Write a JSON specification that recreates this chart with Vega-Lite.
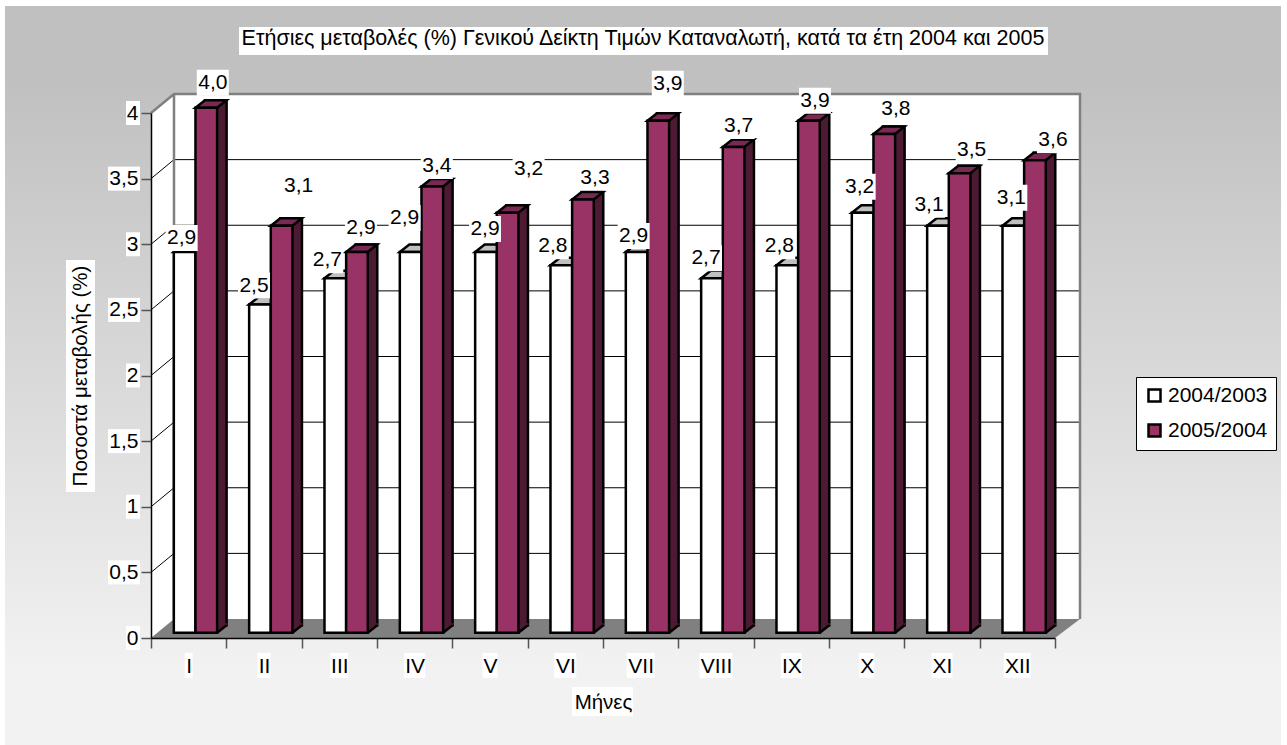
{
"$schema":"https://vega.github.io/schema/vega-lite/v6.json",
"width":1276,"height":739,
"autosize":{"type":"none"},
"padding":{"left":5,"top":6,"right":6,"bottom":0},
"background":"white",
"view":{"stroke":null,"fill":{"gradient":"linear","x1":0,"y1":0,"x2":0,"y2":1,"stops":[{"offset":0,"color":"#c0c0c0"},{"offset":0.1,"color":"#c0c0c0"},{"offset":0.9,"color":"#f2f2f2"},{"offset":1,"color":"#f2f2f2"}]}},
"config":{"font":"Liberation Sans"},
"title":{"text":"Ετήσιες μεταβολές (%) Γενικού Δείκτη Τιμών Καταναλωτή, κατά τα έτη 2004 και 2005","font":"Liberation Sans","fontSize":21.5,"fontWeight":"normal","color":"black","anchor":"middle","frame":"group","offset":-43},
"params":[
{"name":"off","value":{
"2004/2003":{"I":[-3,-14],"II":[-6,-19],"III":[-8,-18],"IV":[-6,-34],"V":[-1,-23],"VI":[-8.5,-19],"VII":[-3,-16],"VIII":[-6,-20],"IX":[-8,-19],"X":[-3,-26],"XI":[-9,-21],"XII":[-2,-28]},
"2005/2004":{"I":[6.5,-25],"II":[17,-40],"III":[4,-24],"IV":[4.5,-20.5],"V":[21,-44],"VI":[12,-22],"VII":[9.5,-37],"VIII":[5,-21],"IX":[6,-20],"X":[11.5,-25],"XI":[12,-23],"XII":[18,-20]}}},
{"name":"boxw","value":{"I":8,"II":13,"III":18,"IV":21,"V":15,"VI":22,"VII":28,"VIII":33,"IX":21,"X":15,"XI":21,"XII":27}}
],
"datasets":{
"bars":[
{"month":"I","series":"2004/2003","value":2.9,"label":"2,9"},{"month":"II","series":"2004/2003","value":2.5,"label":"2,5"},{"month":"III","series":"2004/2003","value":2.7,"label":"2,7"},{"month":"IV","series":"2004/2003","value":2.9,"label":"2,9"},{"month":"V","series":"2004/2003","value":2.9,"label":"2,9"},{"month":"VI","series":"2004/2003","value":2.8,"label":"2,8"},{"month":"VII","series":"2004/2003","value":2.9,"label":"2,9"},{"month":"VIII","series":"2004/2003","value":2.7,"label":"2,7"},{"month":"IX","series":"2004/2003","value":2.8,"label":"2,8"},{"month":"X","series":"2004/2003","value":3.2,"label":"3,2"},{"month":"XI","series":"2004/2003","value":3.1,"label":"3,1"},{"month":"XII","series":"2004/2003","value":3.1,"label":"3,1"},
{"month":"I","series":"2005/2004","value":4.0,"label":"4,0"},{"month":"II","series":"2005/2004","value":3.1,"label":"3,1"},{"month":"III","series":"2005/2004","value":2.9,"label":"2,9"},{"month":"IV","series":"2005/2004","value":3.4,"label":"3,4"},{"month":"V","series":"2005/2004","value":3.2,"label":"3,2"},{"month":"VI","series":"2005/2004","value":3.3,"label":"3,3"},{"month":"VII","series":"2005/2004","value":3.9,"label":"3,9"},{"month":"VIII","series":"2005/2004","value":3.7,"label":"3,7"},{"month":"IX","series":"2005/2004","value":3.9,"label":"3,9"},{"month":"X","series":"2005/2004","value":3.8,"label":"3,8"},{"month":"XI","series":"2005/2004","value":3.5,"label":"3,5"},{"month":"XII","series":"2005/2004","value":3.6,"label":"3,6"}],
"ticks":[{"v":0},{"v":0.5},{"v":1},{"v":1.5},{"v":2},{"v":2.5},{"v":3},{"v":3.5},{"v":4}],
"months":[{"month":"I"},{"month":"II"},{"month":"III"},{"month":"IV"},{"month":"V"},{"month":"VI"},{"month":"VII"},{"month":"VIII"},{"month":"IX"},{"month":"X"},{"month":"XI"},{"month":"XII"}],
"anchor":[{"month":"I","v":0}]
},
"resolve":{"scale":{"x":"independent","y":"independent"}},
"layer":[
{"data":{"name":"anchor"},
 "mark":{"type":"point","filled":true,"opacity":1,"size":4,"fill":"white","stroke":null,"shape":"M0,0L0,-525L23,-544H929V-19H23Z"},
 "encoding":{"x":{"field":"month","type":"nominal","bandPosition":0,"axis":null,"scale":{"type":"band","domain":["I","II","III","IV","V","VI","VII","VIII","IX","X","XI","XII"],"range":[146,1050],"padding":0}},
 "y":{"field":"v","type":"quantitative","axis":null,"scale":{"domain":[0,4],"range":[632,107],"nice":false}}}},
{"data":{"name":"anchor"},
 "mark":{"type":"point","filled":true,"opacity":1,"size":4,"fill":"#808080","stroke":null,"shape":"M0,0H904L929,-19H23Z"},
 "encoding":{"x":{"field":"month","type":"nominal","bandPosition":0,"axis":null,"scale":{"type":"band","domain":["I","II","III","IV","V","VI","VII","VIII","IX","X","XI","XII"],"range":[146,1050],"padding":0}},
 "y":{"field":"v","type":"quantitative","axis":null,"scale":{"domain":[0,4],"range":[632,107],"nice":false}}}},
{"data":{"name":"ticks"},"transform":[{"filter":"datum.v>0 && datum.v<4"}],
 "mark":{"type":"point","filled":false,"opacity":1,"size":4,"fill":null,"stroke":"#000000","strokeWidth":1,"shape":"M0,0L23,-19H929"},
 "encoding":{"x":{"datum":"I","type":"nominal","bandPosition":0,"axis":null,"scale":{"type":"band","domain":["I","II","III","IV","V","VI","VII","VIII","IX","X","XI","XII"],"range":[146,1050],"padding":0}},
 "y":{"field":"v","type":"quantitative","axis":null,"scale":{"domain":[0,4],"range":[632,107],"nice":false}}}},
{"data":{"name":"anchor"},
 "mark":{"type":"point","filled":false,"opacity":1,"size":4,"fill":null,"stroke":"#808080","strokeWidth":2.5,"shape":"M0,-525L23,-544H929V-19M23,-544V-19"},
 "encoding":{"x":{"field":"month","type":"nominal","bandPosition":0,"axis":null,"scale":{"type":"band","domain":["I","II","III","IV","V","VI","VII","VIII","IX","X","XI","XII"],"range":[146,1050],"padding":0}},
 "y":{"field":"v","type":"quantitative","axis":null,"scale":{"domain":[0,4],"range":[632,107],"nice":false}}}},
{"data":{"name":"bars"},"transform":[{"filter":"datum.series=='2005/2004'"}],
 "mark":{"type":"bar","fill":"#4d1a33","stroke":"black","strokeWidth":2.5},
 "encoding":{"x":{"field":"month","type":"nominal","axis":null,"scale":{"type":"band","domain":["I","II","III","IV","V","VI","VII","VIII","IX","X","XI","XII"],"range":[162.3,1066.3],"padding":0}},
 "xOffset":{"field":"series","type":"nominal","scale":{"domain":["2004/2003","2005/2004"],"paddingOuter":0.74,"paddingInner":0}},
 "y":{"field":"value","type":"quantitative","axis":null,"scale":{"domain":[0,4],"range":[619.2,94.2],"nice":false}}}},
{"data":{"name":"bars"},"transform":[{"filter":"datum.series=='2005/2004'"}],
 "mark":{"type":"point","filled":true,"opacity":1,"size":4,"fill":"#4d1a33","stroke":null,"shape":"M10.8,0L21,-8L21,-9.5H10.8Z"},
 "encoding":{"x":{"field":"month","type":"nominal","axis":null,"scale":{"type":"band","domain":["I","II","III","IV","V","VI","VII","VIII","IX","X","XI","XII"],"range":[152.8,1056.8],"padding":0}},
 "xOffset":{"field":"series","type":"nominal","scale":{"domain":["2004/2003","2005/2004"],"paddingOuter":0.74,"paddingInner":0}},
 "y":{"datum":0,"type":"quantitative","axis":null,"scale":{"domain":[0,4],"range":[626.7,101.7],"nice":false}}}},
{"data":{"name":"bars"},"transform":[{"filter":"datum.series=='2005/2004'"}],
 "mark":{"type":"point","filled":false,"opacity":1,"size":4,"fill":null,"stroke":"black","strokeWidth":2.5,"shape":"M10.8,0L20.3,-7.5"},
 "encoding":{"x":{"field":"month","type":"nominal","axis":null,"scale":{"type":"band","domain":["I","II","III","IV","V","VI","VII","VIII","IX","X","XI","XII"],"range":[152.8,1056.8],"padding":0}},
 "xOffset":{"field":"series","type":"nominal","scale":{"domain":["2004/2003","2005/2004"],"paddingOuter":0.74,"paddingInner":0}},
 "y":{"datum":0,"type":"quantitative","axis":null,"scale":{"domain":[0,4],"range":[626.7,101.7],"nice":false}}}},
{"data":{"name":"bars"},
 "mark":{"type":"point","filled":true,"opacity":1,"size":4,"stroke":"black","strokeWidth":2.5,"shape":"M-10.8,0L-1.3,-7.5H20.3L10.8,0Z"},
 "encoding":{"x":{"field":"month","type":"nominal","axis":null,"scale":{"type":"band","domain":["I","II","III","IV","V","VI","VII","VIII","IX","X","XI","XII"],"range":[152.8,1056.8],"padding":0}},
 "xOffset":{"field":"series","type":"nominal","scale":{"domain":["2004/2003","2005/2004"],"paddingOuter":0.74,"paddingInner":0}},
 "y":{"field":"value","type":"quantitative","axis":null,"scale":{"domain":[0,4],"range":[626.7,101.7],"nice":false}},
 "fill":{"condition":{"test":"datum.series=='2004/2003'","value":"#c0c0c0"},"value":"#7a2952"}}},
{"data":{"name":"bars"},
 "mark":{"type":"bar","stroke":"black","strokeWidth":2.5},
 "encoding":{"x":{"field":"month","type":"nominal","axis":null,"scale":{"type":"band","domain":["I","II","III","IV","V","VI","VII","VIII","IX","X","XI","XII"],"range":[152.8,1056.8],"padding":0}},
 "xOffset":{"field":"series","type":"nominal","scale":{"domain":["2004/2003","2005/2004"],"paddingOuter":0.74,"paddingInner":0}},
 "y":{"field":"value","type":"quantitative","axis":null,"scale":{"domain":[0,4],"range":[626.7,101.7],"nice":false}},
 "color":{"field":"series","type":"nominal","scale":{"domain":["2004/2003","2005/2004"],"range":["#ffffff","#993366"]},
  "legend":{"title":null,"orient":"none","legendX":1131,"legendY":371,"fillColor":"white","strokeColor":"black","padding":8,"labelFont":"Liberation Sans","labelFontSize":21,"labelColor":"black","symbolType":"square","symbolSize":144,"symbolStrokeColor":"black","symbolStrokeWidth":2.5,"symbolOpacity":1,"rowPadding":12,"labelOffset":3}}}},
{"data":{"name":"anchor"},
 "mark":{"type":"point","filled":true,"opacity":1,"size":4,"fill":"white","stroke":null,"shape":"M-85,-378H-56V-146H-85ZM421,49H482V78H421ZM88,-611H897V-583H88Z"},
 "encoding":{"x":{"field":"month","type":"nominal","bandPosition":0,"axis":null,"scale":{"type":"band","domain":["I","II","III","IV","V","VI","VII","VIII","IX","X","XI","XII"],"range":[146,1050],"padding":0}},
 "y":{"field":"v","type":"quantitative","axis":null,"scale":{"domain":[0,4],"range":[632,107],"nice":false}}}},
{"data":{"name":"ticks"},
 "mark":{"type":"point","filled":true,"opacity":1,"size":4,"fill":"white","stroke":null,"shape":{"expr":"datum.v==floor(datum.v)?'M-25,-12h14v24h-14z':'M-43,-12h32v24h-32z'"}},
 "encoding":{"x":{"datum":"I","type":"nominal","bandPosition":0,"axis":null,"scale":{"type":"band","domain":["I","II","III","IV","V","VI","VII","VIII","IX","X","XI","XII"],"range":[146,1050],"padding":0}},
 "y":{"field":"v","type":"quantitative","axis":null,"scale":{"domain":[0,4],"range":[632,107],"nice":false}}}},
{"data":{"name":"months"},
 "mark":{"type":"point","filled":true,"opacity":1,"size":4,"fill":"white","stroke":null,"shape":{"expr":"'M'+(-boxw[datum.month]/2)+',15h'+boxw[datum.month]+'v25h'+(-boxw[datum.month])+'z'"}},
 "encoding":{"x":{"field":"month","type":"nominal","axis":{"orient":"bottom","offset":-107,"zindex":1,"title":"Μήνες","titleFont":"Liberation Sans","titleFontSize":20.5,"titleFontWeight":"normal","titleColor":"black","titleBaseline":"middle","titleY":64,"labelFont":"Liberation Sans","labelFontSize":21,"labelColor":"black","labelAngle":0,"labelPadding":7,"tickBand":"extent","tickColor":"#555555","tickSize":10,"tickWidth":1.5,"domainColor":"black","domainWidth":1.5,"grid":false},"scale":{"type":"band","domain":["I","II","III","IV","V","VI","VII","VIII","IX","X","XI","XII"],"range":[146,1050],"padding":0}},
 "y":{"datum":0,"type":"quantitative","axis":{"orient":"left","offset":-146,"zindex":1,"title":"Ποσοστά μεταβολής (%)","titleFont":"Liberation Sans","titleFontSize":20.5,"titleFontWeight":"normal","titleColor":"black","titleBaseline":"middle","titleAngle":-90,"titleX":-71,"labelFont":"Liberation Sans","labelFontSize":21,"labelColor":"black","labelPadding":3,"values":[0,0.5,1,1.5,2,2.5,3,3.5,4],"labelExpr":"replace(format(datum.value,'.1~f'),'.',',')","tickColor":"#555555","tickSize":10,"tickWidth":1.5,"domainColor":"black","domainWidth":1.5,"grid":false},"scale":{"domain":[0,4],"range":[632,107],"nice":false}}}},
{"data":{"name":"bars"},
 "mark":{"type":"point","filled":true,"opacity":1,"size":4,"fill":"white","stroke":null,"shape":{"expr":"'M'+(off[datum.series][datum.month][0]-16)+','+(off[datum.series][datum.month][1]-13)+'h32v26h-32z'"}},
 "encoding":{"x":{"field":"month","type":"nominal","axis":null,"scale":{"type":"band","domain":["I","II","III","IV","V","VI","VII","VIII","IX","X","XI","XII"],"range":[152.8,1056.8],"padding":0}},
 "xOffset":{"field":"series","type":"nominal","scale":{"domain":["2004/2003","2005/2004"],"paddingOuter":0.74,"paddingInner":0}},
 "y":{"field":"value","type":"quantitative","axis":null,"scale":{"domain":[0,4],"range":[626.7,101.7],"nice":false}}}},
{"data":{"name":"bars"},
 "mark":{"type":"text","font":"Liberation Sans","fontSize":21,"color":"black","baseline":"middle","align":"center","dx":{"expr":"off[datum.series][datum.month][0]"},"dy":{"expr":"off[datum.series][datum.month][1]"}},
 "encoding":{"x":{"field":"month","type":"nominal","axis":null,"scale":{"type":"band","domain":["I","II","III","IV","V","VI","VII","VIII","IX","X","XI","XII"],"range":[152.8,1056.8],"padding":0}},
 "xOffset":{"field":"series","type":"nominal","scale":{"domain":["2004/2003","2005/2004"],"paddingOuter":0.74,"paddingInner":0}},
 "y":{"field":"value","type":"quantitative","axis":null,"scale":{"domain":[0,4],"range":[626.7,101.7],"nice":false}},
 "text":{"field":"label","type":"nominal"}}}
]
}
